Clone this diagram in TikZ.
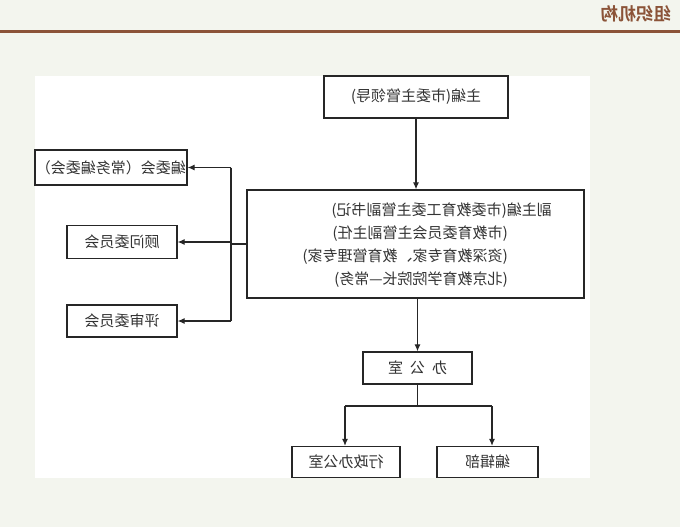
\documentclass[tikz,border=0pt]{standalone}
\usepackage{graphicx}
\usepackage{fontspec}
\newfontfamily\cjk{Noto Sans CJK SC}
\newfontfamily\cjkb{Noto Sans CJK SC Bold}
\usetikzlibrary{arrows.meta}
\definecolor{bgc}{HTML}{F3F5EE}
\definecolor{brownc}{HTML}{8B5338}
\definecolor{txtc}{HTML}{333333}
\newcommand\mtext[1]{\reflectbox{#1}}
\tikzset{
  box/.style={draw=black!85, line width=1.3pt, fill=white, inner sep=0pt, font=\cjk\fontsize{15}{18}\selectfont, text=txtc},
  ln/.style={inner sep=0pt, font=\cjk\fontsize{15}{18}\selectfont, text=txtc},
  conn/.style={draw=black!85, line width=1.1pt},
  arr/.style={conn, -{Latex[length=7pt,width=6pt]}}
}
\begin{document}
\begin{tikzpicture}[x=1pt,y=-1pt]
\fill[bgc] (0,0) rectangle (680,527);
\useasboundingbox (0,0) rectangle (680,527);
\node[inner sep=0pt, font=\cjkb\fontsize{17.5}{20}\selectfont, text=brownc] (title) at (636,14) {\mtext{组织机构}};
\fill[brownc] (0,30.5) rectangle (680,32.8);
\fill[white] (35,76) rectangle (590,478);
% boxes
\node[box, minimum width=184, minimum height=42] (zb) at (416,97) {\mtext{主编(市委主管领导)}};
\node[box, minimum width=337, minimum height=108] (fzb) at (415.5,244) {};
\node[ln, anchor=east] (l1) at (552,211) {\mtext{副主编(市委教育工委主管副书记)}};
\node[ln, anchor=east] (l2) at (508,233.5) {\mtext{(市教育委员会主管副主任)}};
\node[ln, anchor=east] (l3) at (508,257) {\mtext{(资深教育专家、教育管理专家)}};
\node[ln, anchor=east] (l4) at (508,280) {\mtext{(北京教育学院院长—常务)}};
\node[box, minimum width=152, minimum height=35] (bwh) at (111,167.5) {\mtext{编委会（常务编委会）}};
\node[box, minimum width=110, minimum height=33] (gw) at (122,242) {\mtext{顾问委员会}};
\node[box, minimum width=110, minimum height=32] (ps) at (122,321) {\mtext{评审委员会}};
\node[box, minimum width=109, minimum height=32] (bgs) at (417.5,368) {\mtext{办\hspace{7pt}公\hspace{7pt}室}};
\node[box, minimum width=108, minimum height=31] (xz) at (346,462) {\mtext{行政办公室}};
\node[box, minimum width=101, minimum height=31] (bj) at (487.5,462) {\mtext{编辑部}};
% connectors
\coordinate (jl) at (231,244);
\coordinate (jt) at (231,167.5);
\coordinate (jb) at (231,321);
\coordinate (jm) at (417.5,406);
\coordinate (jxl) at (345,406);
\coordinate (jxr) at (492,406);
\draw[arr] (zb.south) -- (zb.south |- fzb.north);
\draw[conn] (fzb.west) -- (jl);
\draw[conn] (jt) -- (jb);
\draw[arr] (jt) -- (bwh.east);
\draw[arr] (jl |- gw.east) -- (gw.east);
\draw[arr] (jb) -- (ps.east);
\draw[arr] (fzb.south -| bgs.north) -- (bgs.north);
\draw[conn] (bgs.south) -- (jm);
\draw[conn] (jxl) -- (jxr);
\draw[arr] (jxl) -- (jxl |- xz.north);
\draw[arr] (jxr) -- (jxr |- bj.north);
\end{tikzpicture}
\end{document}
